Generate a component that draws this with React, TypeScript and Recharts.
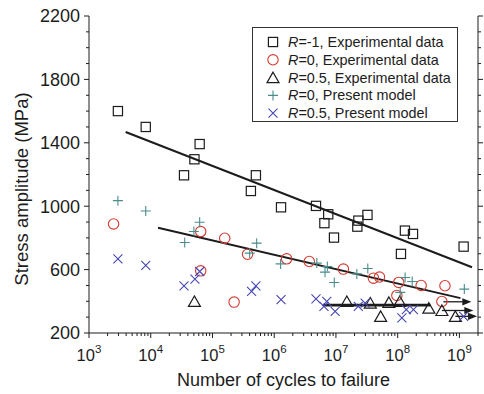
import {
  ScatterChart,
  Scatter,
  XAxis,
  YAxis,
  ReferenceLine,
  Legend,
  Label,
} from "recharts";

const FONT = "Arial, 'Liberation Sans', Helvetica, sans-serif";
const INK = "#1c1c1c";
const RED = "#d4382e";
const TEAL = "#4a8c8c";
const BLUE = "#4646b4";

// R=-1, experimental (squares)
const sqCycles = [2.94e3, 8.3e3, 6.2e4, 5.1e4, 3.46e4, 5.05e5, 4.19e5, 1.29e6, 4.75e6, 7.5e6, 6.5e6, 9.3e6, 3.24e7, 2.31e7, 2.22e7, 1.31e8, 1.77e8, 1.13e8, 1.17e9];
const sqStress = [1600, 1500, 1392, 1296, 1195, 1195, 1096, 993, 1002, 949, 893, 802, 945, 909, 871, 846, 825, 699, 745];

// R=0, experimental (circles)
const ciCycles = [2.5e3, 6.45e4, 6.45e4, 1.58e5, 2.24e5, 3.7e5, 1.59e6, 3.7e6, 1.32e7, 4.05e7, 5.07e7, 9.7e7, 1.04e8, 2.4e8, 5.83e8, 5.2e8];
const ciStress = [888, 840, 592, 798, 395, 697, 668, 651, 603, 546, 553, 437, 519, 500, 498, 399];

// R=0.5, experimental (triangles)
const trCycles = [5.1e4, 1.5e7, 3.6e7, 5.3e7, 7.2e7, 1.08e8, 3.2e8, 5.2e8, 8.6e8];
const trStress = [399, 399, 389, 305, 393, 399, 357, 342, 305];

// R=0, present model (plus)
const plCycles = [2.94e3, 8.3e3, 6.2e4, 5.0e4, 3.55e4, 5.2e5, 4.0e5, 1.27e6, 4.9e6, 7.25e6, 6.65e6, 9.4e6, 2.18e7, 3.28e7, 1.32e8, 1.72e8, 1.1e8, 1.2e9];
const plStress = [1035, 970, 899, 840, 771, 767, 704, 636, 641, 619, 584, 519, 573, 607, 550, 525, 456, 477];

// R=0.5, present model (cross)
const crCycles = [2.94e3, 8.3e3, 6.2e4, 5.2e4, 3.46e4, 5.05e5, 4.3e5, 1.29e6, 4.75e6, 7.1e6, 6.4e6, 9.7e6, 2.3e7, 2.97e7, 1.17e8, 1.38e8, 1.8e8, 1.17e9];
const crStress = [668, 626, 588, 540, 498, 498, 462, 410, 416, 399, 368, 336, 368, 389, 295, 347, 347, 305];

// fitted lines
const fitR1Cycles = [3.92e3, 1.6e9];
const fitR1Stress = [1468, 615];
const fitR0Cycles = [1.31e4, 1.04e9];
const fitR0Stress = [864, 420];

// run-out
const runoutCycles = [6.2e6, 3.4e8];
const runoutStress = 376;
const arrowFrom = [5.5e8, 5.2e8, 8.6e8];
const arrowTo = [1.56e9, 1.68e9, 1.93e9];
const arrowStress = [397, 342, 305];

const seriesNames = [
  "R=-1, Experimental data",
  "R=0, Experimental data",
  "R=0.5, Experimental data",
  "R=0, Present model",
  "R=0.5, Present model",
];

const decades = [3, 4, 5, 6, 7, 8, 9];
const xTicks = decades.flatMap((e) =>
  [1, 2, 3, 4, 5, 6, 7, 8, 9].map((m) => m * 10 ** e)
);
const yTicks = [200, 300, 400, 500, 600, 700, 800, 900, 1000, 1100, 1200, 1300, 1400, 1500, 1600, 1700, 1800, 1900, 2000, 2100, 2200];
const yLabelTicks = [200, 600, 1000, 1400, 1800, 2200];

const zip = (xs: number[], ys: number[]) => xs.map((x, i) => ({ x, y: ys[i] }));

const isDecade = (v: number) =>
  Math.abs(Math.log10(v) - Math.round(Math.log10(v))) < 1e-9;

// marker shapes
const Square = ({ cx, cy }: any) => (
  <rect x={cx - 4.6} y={cy - 4.6} width={9.2} height={9.2} fill="none" stroke={INK} strokeWidth={1.2} />
);
const Circle = ({ cx, cy }: any) => (
  <circle cx={cx} cy={cy} r={5.2} fill="none" stroke={RED} strokeWidth={1.1} />
);
const Triangle = ({ cx, cy }: any) => (
  <polygon
    points={`${cx},${cy - 5.5} ${cx - 6},${cy + 5} ${cx + 6},${cy + 5}`}
    fill="none"
    stroke={INK}
    strokeWidth={1.2}
  />
);
const Plus = ({ cx, cy }: any) => (
  <path d={`M${cx - 5},${cy}H${cx + 5}M${cx},${cy - 5}V${cy + 5}`} stroke={TEAL} strokeWidth={1.1} />
);
const Cross = ({ cx, cy }: any) => (
  <path d={`M${cx - 4.5},${cy - 4.5}L${cx + 4.5},${cy + 4.5}M${cx - 4.5},${cy + 4.5}L${cx + 4.5},${cy - 4.5}`} stroke={BLUE} strokeWidth={1.1} />
);

const SHAPES: Record<string, any> = {
  [seriesNames[0]]: Square,
  [seriesNames[1]]: Circle,
  [seriesNames[2]]: Triangle,
  [seriesNames[3]]: Plus,
  [seriesNames[4]]: Cross,
};

// ticks
const BottomTick = ({ x, y, payload }: any) => {
  const v = payload.value;
  const major = isDecade(v);
  return (
    <g>
      <line x1={x} x2={x} y1={y} y2={y + (major ? 5 : 3)} stroke={INK} />
      {major && (
        <text x={x} y={y + 28} textAnchor="middle" fill={INK} fontSize={16.5} fontFamily={FONT}>
          10
          <tspan dy={-8} fontSize={11.5}>{Math.round(Math.log10(v))}</tspan>
        </text>
      )}
    </g>
  );
};
const TopTick = ({ x, y, payload }: any) => (
  <line x1={x} x2={x} y1={y} y2={y + (isDecade(payload.value) ? 5 : 3)} stroke={INK} />
);
const LeftTick = ({ x, y, payload }: any) => {
  const labeled = yLabelTicks.includes(payload.value);
  return (
    <g>
      <line x1={x - (labeled ? 5 : 3)} x2={x} y1={y} y2={y} stroke={INK} />
      {labeled && (
        <text x={x - 9} y={y} dy="0.35em" textAnchor="end" fill={INK} fontSize={18} fontFamily={FONT}>
          {payload.value}
        </text>
      )}
    </g>
  );
};
const RightTick = ({ x, y, payload }: any) => (
  <line x1={x} x2={x + (yLabelTicks.includes(payload.value) ? 5 : 3)} y1={y} y2={y} stroke={INK} />
);

const Arrow = ({ x1, y1, x2, y2, strokeWidth }: any) => (
  <g>
    <line x1={x1} y1={y1} x2={x2 - 6} y2={y2} stroke={INK} strokeWidth={strokeWidth} />
    <polygon points={`${x2},${y2} ${x2 - 9},${y2 - 3.6} ${x2 - 9},${y2 + 3.6}`} fill={INK} />
  </g>
);

const XTitle = ({ viewBox }: any) => (
  <text x={viewBox.x + viewBox.width / 2} y={viewBox.y + 53} textAnchor="middle" fill={INK} fontSize={18} fontFamily={FONT}>
    Number of cycles to failure
  </text>
);
const YTitle = ({ viewBox }: any) => {
  const cx = 22;
  const cy = viewBox.y + 173;
  return (
    <text
      x={cx}
      y={cy}
      dy="0.35em"
      textAnchor="middle"
      transform={`rotate(-90, ${cx}, ${cy})`}
      fill={INK}
      fontSize={18.5}
      fontFamily={FONT}
    >
      Stress amplitude (MPa)
    </text>
  );
};

const LegendBox = ({ payload }: any) => {
  const rows = [...(payload || [])].sort(
    (a: any, b: any) => seriesNames.indexOf(a.value) - seriesNames.indexOf(b.value)
  );
  return (
    <svg width={206} height={95} style={{ display: "block" }}>
      <rect x={0.5} y={0.5} width={205} height={94} fill="#fff" stroke="#333" />
      {rows.map((entry: any, i: number) => {
        const Shape = SHAPES[entry.value];
        const cy = 15 + i * 17.8;
        return (
          <g key={entry.value}>
            {Shape && <Shape cx={21} cy={cy} />}
            <text x={36} y={cy} dy="0.35em" fill={INK} fontSize={14.4} fontFamily={FONT}>
              <tspan fontStyle="italic">R</tspan>
              {entry.value.slice(1)}
            </text>
          </g>
        );
      })}
    </svg>
  );
};

export default function App() {
  return (
    <div style={{ position: "absolute", left: 0, top: 0, background: "#fff" }}>
      <ScatterChart
        width={484}
        height={394}
        margin={{ top: 16, right: 0, bottom: 0, left: 0 }}
        style={{ fontFamily: FONT }}
      >
        <XAxis
          dataKey="x"
          type="number"
          scale="log"
          domain={[1e3, 2e9]}
          allowDataOverflow
          ticks={xTicks}
          interval={0}
          tick={<BottomTick />}
          tickLine={false}
          tickSize={0}
          tickMargin={0}
          height={61}
          axisLine={{ stroke: INK }}
        >
          <Label content={<XTitle />} />
        </XAxis>
        <XAxis
          xAxisId="top"
          orientation="top"
          type="number"
          scale="log"
          domain={[1e3, 2e9]}
          allowDataOverflow
          ticks={xTicks}
          interval={0}
          tick={<TopTick />}
          tickLine={false}
          tickSize={0}
          tickMargin={0}
          height={0}
          axisLine={{ stroke: INK }}
        />
        <YAxis
          dataKey="y"
          type="number"
          domain={[200, 2200]}
          allowDataOverflow
          ticks={yTicks}
          interval={0}
          tick={<LeftTick />}
          tickLine={false}
          tickSize={0}
          tickMargin={0}
          width={89}
          axisLine={{ stroke: INK }}
        >
          <Label content={<YTitle />} />
        </YAxis>
        <YAxis
          yAxisId="right"
          orientation="right"
          type="number"
          domain={[200, 2200]}
          allowDataOverflow
          ticks={yTicks}
          interval={0}
          tick={<RightTick />}
          tickLine={false}
          tickSize={0}
          tickMargin={0}
          width={6}
          axisLine={{ stroke: INK }}
        />

        <Scatter name={seriesNames[0]} data={zip(sqCycles, sqStress)} shape={Square} fill={INK} isAnimationActive={false} />
        <Scatter name={seriesNames[1]} data={zip(ciCycles, ciStress)} shape={Circle} fill={RED} isAnimationActive={false} />
        <Scatter name={seriesNames[2]} data={zip(trCycles, trStress)} shape={Triangle} fill={INK} isAnimationActive={false} />
        <Scatter name={seriesNames[3]} data={zip(plCycles, plStress)} shape={Plus} fill={TEAL} isAnimationActive={false} />
        <Scatter name={seriesNames[4]} data={zip(crCycles, crStress)} shape={Cross} fill={BLUE} isAnimationActive={false} />

        <ReferenceLine
          segment={zip(fitR1Cycles, fitR1Stress)}
          stroke={INK}
          strokeWidth={2}
        />
        <ReferenceLine
          segment={zip(fitR0Cycles, fitR0Stress)}
          stroke={INK}
          strokeWidth={2}
        />
        <ReferenceLine
          segment={runoutCycles.map((x) => ({ x, y: runoutStress }))}
          stroke={INK}
          strokeWidth={2.6}
        />
        {arrowStress.map((s, i) => (
          <ReferenceLine
            key={`arrow-${i}`}
            segment={[
              { x: arrowFrom[i], y: s },
              { x: arrowTo[i], y: s },
            ]}
            stroke={INK}
            strokeWidth={1.3}
            shape={Arrow}
          />
        ))}

        <Legend
          layout="vertical"
          align="center"
          verticalAlign="middle"
          itemSorter={null}
          content={<LegendBox />}
          wrapperStyle={{ left: 252, top: 27, width: 206, height: 95 }}
        />
      </ScatterChart>
    </div>
  );
}
